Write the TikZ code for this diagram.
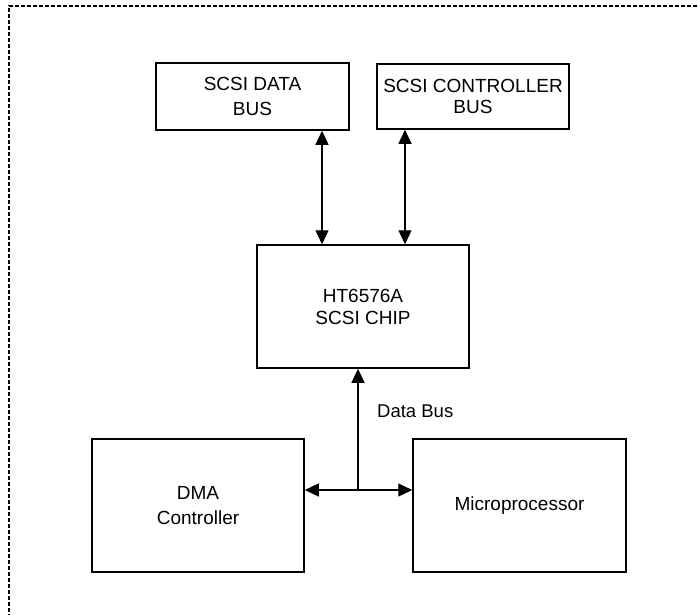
\documentclass[tikz,border=0pt]{standalone}
\usepackage{fontspec}
\setmainfont{Liberation Sans}
\usetikzlibrary{arrows.meta}
\begin{document}
\begin{tikzpicture}[x=1pt,y=-1pt,
  box/.style={draw, line width=1.5pt, inner sep=0pt, align=center, font=\fontsize{19}{25}\selectfont},
  conn/.style={line width=1.3pt, {Triangle[length=14pt,width=13pt]}-{Triangle[length=14pt,width=13pt]}},
  uni/.style={line width=1.3pt, -{Triangle[length=14pt,width=13pt]}},
  frame/.style={line width=1.4pt, dash pattern=on 4pt off 2pt}]
\useasboundingbox (0,0) rectangle (698,615);
\draw[frame] (9,630) -- (9,6) -- (712,6);
\node[box, minimum width=193pt, minimum height=67pt] (sdb) at (252.5,96.5) {SCSI DATA\\BUS};
\node[box, minimum width=192pt, minimum height=65pt, font=\fontsize{19}{21}\selectfont] (scb) at (473,96.5) {SCSI CONTROLLER\\BUS};
\node[box, minimum width=212pt, minimum height=123pt, font=\fontsize{19}{22}\selectfont] (chip) at (363,306.5) {HT6576A\\SCSI CHIP};
\node[box, minimum width=212pt, minimum height=133pt] (dma) at (198,505.5) {DMA\\Controller};
\node[box, minimum width=213pt, minimum height=133pt] (mp) at (519.5,505.5) {Microprocessor};
\coordinate (bus) at (358,490);
\draw[conn] ([xshift=69.5pt]sdb.south) -- ([xshift=69.5pt]sdb.south |- chip.north);
\draw[conn] ([xshift=-68pt]scb.south) -- ([xshift=-68pt]scb.south |- chip.north);
\draw[uni] (bus) -- (bus |- chip.south);
\draw[conn] (dma.east |- bus) -- (mp.west |- bus);
\node[anchor=west, inner sep=0pt, font=\fontsize{18.5}{22}\selectfont] (dbl) at (377,411) {Data Bus};
\end{tikzpicture}
\end{document}
